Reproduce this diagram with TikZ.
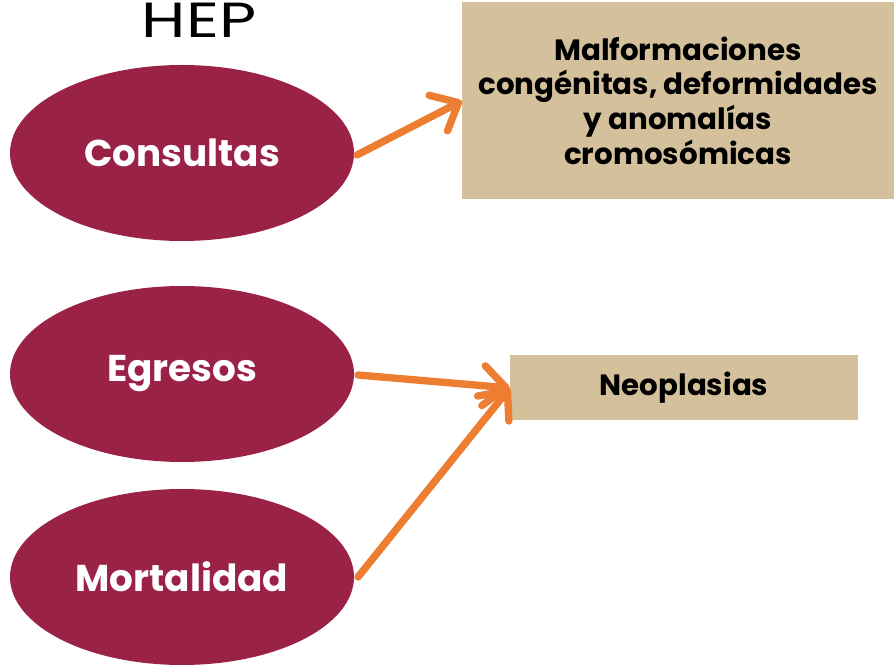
\documentclass[tikz,border=0pt]{standalone}
\usepackage{fontspec}
\usepackage{graphicx}
\setmainfont{Poppins}
\usetikzlibrary{arrows.meta,shapes.geometric}
\definecolor{guinda}{HTML}{9B2247}
\definecolor{beige}{HTML}{D4C19C}
\definecolor{naranja}{HTML}{ED7D31}
\tikzset{
  oval/.style={ellipse, fill=guinda, minimum width=344*0.75pt, minimum height=176*0.75pt, inner sep=0pt, text=white, font=\fontsize{28}{32}\selectfont\bfseries},
  tanbox/.style={rectangle, fill=beige, inner sep=0pt, align=center, font=\fontsize{22}{26}\selectfont\bfseries},
  conn/.style={draw=naranja, line width=5.5pt, line cap=round, -{Straight Barb[length=17pt,width=30pt,line width=5.5pt,line cap=round,round]}}
}
\begin{document}
\begin{tikzpicture}[x=0.75pt,y=-0.75pt]
\useasboundingbox (0,0) rectangle (894,666);
\node[font=\fontsize{37}{40}\selectfont, anchor=base, inner sep=0pt] (hep) at (199,38) {\scalebox{1.3}[1]{HEP}};
\node[oval] (cons) at (182,153) {Consultas};
\node[oval] (egr) at (182,374) {Egresos};
\node[oval] (mort) at (182,577) {Mortalidad};
\node[tanbox, minimum width=432*0.75pt, minimum height=197*0.75pt] (malf) at (678,100.5) {Malformaciones\\congénitas, deformidades\\y anomalías\\cromosómicas};
\node[tanbox, minimum width=348*0.75pt, minimum height=65*0.75pt] (neo) at (684,387.5) {Neoplasias};
\coordinate (c1) at (357,155);
\coordinate (c2) at (358,375);
\coordinate (c3) at (358,577);
\draw[conn] (c1) -- (malf.west |- 0,101);
\draw[conn] (c2) -- (neo.west |- 0,388);
\draw[conn] (c3) -- (neo.west |- 0,388);
\end{tikzpicture}
\end{document}
